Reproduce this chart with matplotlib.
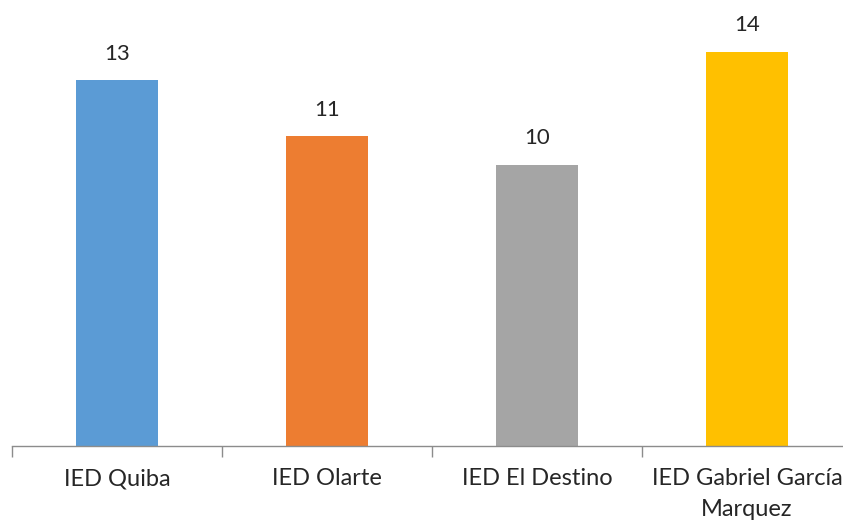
import matplotlib.pyplot as plt
import numpy as np

escuelas = ['IED Quiba', 'IED Olarte', 'IED El Destino', 'IED Gabriel García\nMarquez']
valores = [13, 11, 10, 14]
colores = ['#5B9BD5', '#ED7D31', '#A5A5A5', '#FFC000']

plt.rcParams['font.family'] = ['Lato', 'DejaVu Sans']

fig = plt.figure(figsize=(8.43, 5.26), dpi=100)
ax = fig.add_axes([12 / 843, 80 / 526, 840 / 843, 446 / 526])

x = np.arange(len(valores))
bars = ax.bar(x, valores, width=0.395, color=colores)

for b, v in zip(bars, valores):
    ax.annotate(str(v), (b.get_x() + b.get_width() / 2, v), xytext=(0, 12),
                textcoords='offset points', ha='center', va='bottom',
                fontsize=16, color='#262626')

ax.set_xlim(-0.5, 3.5)
ax.set_ylim(0, 15.85)

for s in ['top', 'right', 'left']:
    ax.spines[s].set_visible(False)
ax.spines['bottom'].set_color('#8c8c8c')
ax.spines['bottom'].set_linewidth(1)

ax.set_yticks([])
ax.set_xticks(np.arange(-0.5, 4, 1), minor=False)
ax.set_xticklabels([])
ax.tick_params(axis='x', which='major', length=8, color='#8c8c8c', width=1)
ax.set_xticks(x, minor=True)
ax.set_xticklabels(escuelas, minor=True, fontsize=17, color='#262626', linespacing=1.6)
ax.tick_params(axis='x', which='minor', length=0, pad=16)

fig.savefig('out.png', dpi=100)
